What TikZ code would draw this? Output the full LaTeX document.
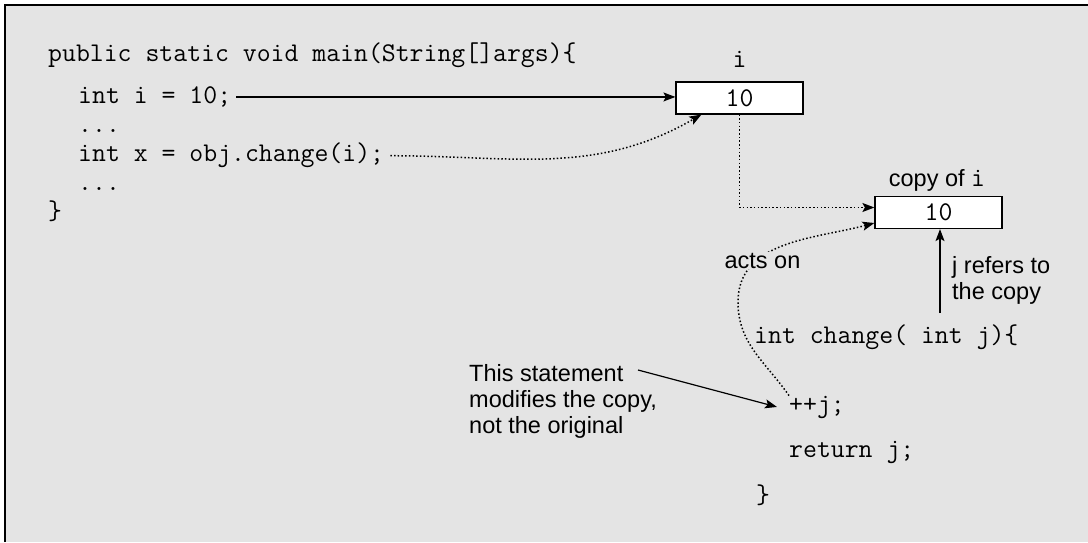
\documentclass[tikz,border=0pt]{standalone}
\usepackage{fontspec}
\newfontfamily\labelfont{Liberation Sans}
\usetikzlibrary{arrows.meta, positioning}
\definecolor{panelgray}{RGB}{228,228,228}
\newcommand{\codefont}{\ttfamily\fontsize{27}{29}\selectfont}

\tikzset{
  code/.style={font=\codefont, inner sep=0pt},
  note/.style={font=\labelfont\fontsize{23.5}{26}\selectfont, inner sep=0pt, align=left},
  valbox/.style={draw=black, line width=1.2pt, fill=white, minimum width=127pt, minimum height=32pt, font=\codefont},
  arrowline/.style={-{Stealth[length=12pt,width=9pt,inset=2.5pt]}, line width=1.2pt},
  dotline/.style={arrowline, line width=1.5pt, dash pattern=on 1.5pt off 2.2pt},
}

\begin{document}
\begin{tikzpicture}[x=1pt,y=1pt]
\useasboundingbox (0,0) rectangle (1088,542);
% Draw the grey panel and its frame
\fill[panelgray] (5,0) rectangle (1088,537);
\draw[black, line width=2pt] (5,0) -- (5,537) -- (1088,537);

% the main method
\node[code, anchor=base west] (mainHead) at (48,480) {public static void main(String[]args)\{};
\node[code, anchor=base west] (intI) at (78,438.5) {int i = 10;};
\node[code, anchor=base west] (dotsA) at (78,409.5) {...};
\node[code, anchor=base west] (intX) at (78,380) {int x = obj.change(i);};
\node[code, anchor=base west] (dotsB) at (78,351) {...};
\node[code, anchor=base west] (mainEnd) at (48,322) {\}};

% the variable i and its copy
\node[valbox] (boxI) at (739.5,444) {10};
\node[code, anchor=base] (nameI) at (739.5,474) {i};
\node[valbox] (copyI) at (938.5,329.5) {10};
\node[note, anchor=base] (nameCopy) at (937,355) {copy of {\codefont i}};

% the method change
\node[code, anchor=base west] (chHead) at (754,199) {int change( int j)\{};
\node[code, anchor=base west] (incJ) at (789,130) {++j;};
\node[code, anchor=base west] (retJ) at (789,85) {return j;};
\node[code, anchor=base west] (chEnd) at (756,39) {\}};

% the notes (base is the last line)
\node[note, anchor=base west] (stmtNote) at (469,109) {This statement\\modifies the copy,\\not the original};
\node[note, anchor=base west] (refNote) at (952,243) {j refers to\\the copy};
\coordinate (stmtTail) at (638,172);
\coordinate (jBot) at (940,229);
\coordinate (actsBend) at (738,240);

% Draw the arrows
\draw[arrowline] ([xshift=5pt]intI.east) -- (intI.east -| boxI.west);
\draw[dotline] ([xshift=6pt]intX.east) to[out=0, in=210] ([xshift=26pt]boxI.south west);
\draw[dotline] (boxI.south) |- ([yshift=5pt]copyI.west);
\draw[arrowline] (jBot) -- (jBot |- copyI.south);
\draw[arrowline] (stmtTail) -- ([xshift=-12pt]incJ.west);
\draw[dotline] (incJ.north west) to[out=125, in=-90] (actsBend) to[out=90, in=195] ([yshift=-10.5pt]copyI.west);
\node[note, anchor=base, fill=panelgray, inner sep=1pt] (actsOn) at (762.5,274) {acts on};
\end{tikzpicture}
\end{document}
